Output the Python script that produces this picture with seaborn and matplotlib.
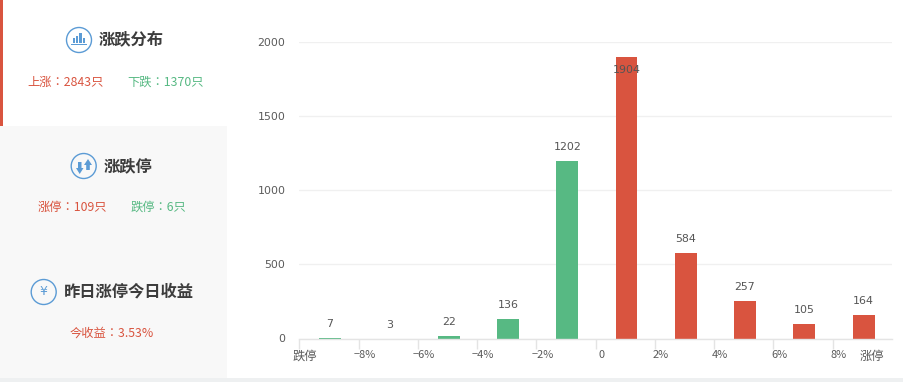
import matplotlib
matplotlib.use("Agg")
import matplotlib.pyplot as plt
from matplotlib.patches import Circle, Rectangle, Polygon
from matplotlib.transforms import ScaledTranslation
import pandas as pd
import seaborn as sns

bins = ["跌停~-8%", "-8~-6%", "-6~-4%", "-4~-2%", "-2~0", "0~2%", "2~4%", "4~6%", "6~8%", "8%~涨停"]
counts = [7, 3, 22, 136, 1202, 1904, 584, 257, 105, 164]
direction = ["跌", "跌", "跌", "跌", "跌", "涨", "涨", "涨", "涨", "涨"]
tick_labels = ["跌停", "−8%", "−6%", "−4%", "−2%", "0", "2%", "4%", "6%", "8%", "涨停"]
y_ticks = [0, 500, 1000, 1500, 2000]

RED = "#d9543f"
GREEN = "#57b983"
BLUE = "#5b9bd5"
DARK = "#3c3c3c"
W, H = 904, 382

sns.set_theme(style="white")
plt.rcParams["font.family"] = ["Noto Sans CJK TC", "DejaVu Sans"]
px = 72 / 100

fig = plt.figure(figsize=(W / 100, H / 100), dpi=100, facecolor="white")

# side panel / page decoration in pixel coordinates
bg = fig.add_axes([0, 0, 1, 1], zorder=0)
bg.set_xlim(0, W)
bg.set_ylim(H, 0)
bg.axis("off")
bg.add_patch(Rectangle((0, 126), 227, 252, fc="#f8f8f8", ec="none"))
bg.add_patch(Rectangle((0, 0), 3, 126, fc=RED, ec="none"))
bg.add_patch(Rectangle((0, 378), W, 4, fc="#eef0f1", ec="none"))

for cx, cy in [(79, 40), (83.7, 166), (43.7, 292)]:
    bg.add_patch(Circle((cx, cy), 12.5, fc="none", ec=BLUE, lw=1.0))
# bars icon
for x0, top in [(73, 38), (76.2, 36), (79.4, 33), (82.6, 38)]:
    bg.add_patch(Rectangle((x0, top), 2.3, 43 - top, fc=BLUE, ec="none"))
bg.add_patch(Rectangle((71, 43.8), 16, 1.2, fc=BLUE, ec="none"))
# arrows icon
bg.add_patch(Polygon([(79.7, 174), (76, 168), (78, 168), (78, 162), (81.5, 162), (81.5, 168), (83.5, 168)], fc=BLUE, ec="none"))
bg.add_patch(Polygon([(88, 159), (84, 165), (86.2, 165), (86.2, 170), (89.8, 170), (89.8, 165), (92, 165)], fc=BLUE, ec="none"))
bg.text(43.7, 291.5, "¥", color=BLUE, fontsize=9, ha="center", va="center", family="DejaVu Sans")

def label(x, y, s, color, size=12.3, **kw):
    bg.text(x, y, s, color=color, fontsize=size * px, ha="left", va="center", **kw)

label(99, 40, "涨跌分布", DARK, 16.3, fontweight="bold", family="Noto Sans CJK SC")
label(27, 82, "上涨：2843只", RED)
label(127, 82, "下跌：1370只", GREEN)
label(104, 166, "涨跌停", DARK, 16.3, fontweight="bold", family="Noto Sans CJK SC")
label(38, 207, "涨停：109只", RED)
label(131, 207, "跌停：6只", GREEN)
label(64, 292, "昨日涨停今日收益", DARK, 16.3, fontweight="bold", family="Noto Sans CJK SC")
label(70, 333, "今收益：3.53%", RED)

# chart
df = pd.DataFrame({"bin": bins, "count": counts, "dir": direction})
ax = fig.add_axes([299.3 / W, 1 - 338.5 / H, (892 - 299.3) / W, (338.5 - 41.7) / H], zorder=1)
ax.patch.set_alpha(0)
sns.barplot(data=df, x="bin", y="count", hue="dir", order=bins, hue_order=["跌", "涨"],
            palette={"跌": GREEN, "涨": RED}, dodge=False, legend=False, width=0.37,
            saturation=1, linewidth=0, edgecolor="none", ax=ax, zorder=3)
ax.set_xlim(-0.52, 9.48)
ax.set_ylim(0, 2000)
ax.set_xlabel("")
ax.set_ylabel("")
sns.despine(ax=ax, left=True, top=True, right=True)
ax.spines["bottom"].set_color("#e4e4e4")
ax.spines["bottom"].set_linewidth(1)
ax.spines["bottom"].set_zorder(5)

# the reference's bars sit one pixel lower than the value scale
down = ScaledTranslation(0, -1 / 100, fig.dpi_scale_trans)
for p in ax.patches:
    p.set_transform(ax.transData + down)

ax.set_yticks(y_ticks)
ax.grid(axis="y", color="#f0f0f0", lw=1)
ax.set_axisbelow(True)
ax.tick_params(axis="y", length=0, pad=14 * px, labelsize=11 * px, labelcolor="#5a5a5a")

tick_pos = [i - 0.52 for i in range(10)] + [9.04]
ax.set_xticks(tick_pos)
ax.set_xticklabels(tick_labels)
ax.tick_params(axis="x", length=10 * px, width=1, color="#e4e4e4", pad=1 * px,
               labelsize=11 * px, labelcolor="#5a5a5a", bottom=True)
ax.xaxis.get_major_ticks()[-1].tick1line.set_visible(False)
shift = ScaledTranslation(6 / 100, 0, fig.dpi_scale_trans)
for t in ax.get_xticklabels():
    t.set_transform(t.get_transform() + shift)
    if t.get_text() in ("跌停", "涨停"):
        t.set_fontsize(12.3 * px)

for i, v in enumerate(counts):
    off = -14 if v > 1800 else 13
    ax.annotate(str(v), (i, v), xytext=(0, off * px), textcoords="offset points",
                ha="center", va="center", fontsize=11 * px, color="#555555",
                family="DejaVu Sans", zorder=6, annotation_clip=False)

for t in ax.get_yticklabels():
    t.set_family("DejaVu Sans")

fig.savefig("out.png", dpi=100, facecolor="white")
